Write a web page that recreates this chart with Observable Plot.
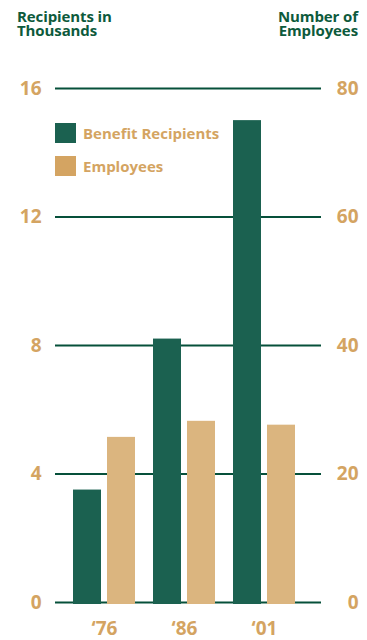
<!DOCTYPE html>
<html>
<head>
<meta charset="utf-8">
<script src="https://cdn.jsdelivr.net/npm/d3@7"></script>
<script src="https://cdn.jsdelivr.net/npm/@observablehq/plot@0.6"></script>
<style>
  html, body { margin: 0; padding: 0; background: #fff; }
  #wrap { position: relative; width: 367px; height: 640px; font-family: "Open Sans", sans-serif; }
  .title { position: absolute; top: 9px; font-weight: 700; font-size: 15px; line-height: 14px; color: #0d5a3c; letter-spacing: -0.1px; }
  .legend { position: absolute; left: 55px; top: 123px; font-weight: 700; font-size: 15px; color: #d4a462; }
  .legend .row { display: flex; align-items: center; height: 20px; margin-bottom: 13px; }
  .legend .sw { width: 21px; height: 20px; margin-right: 7px; }
</style>
</head>
<body>
<div id="wrap">
  <div class="title" style="left:17px;">Recipients in<br>Thousands</div>
  <div class="title" style="right:9px;text-align:right;">Number of<br>Employees</div>
  <div class="legend" id="legend"></div>
</div>
<script>
const years = ["‘76", "‘86", "‘01"];
const recipients = [3.5, 8.2, 15.0];      // thousands
const employees = [25.7, 28.2, 27.6];     // number of employees
const seriesNames = ["Benefit Recipients", "Employees"];
const recipientTicks = [0, 4, 8, 12, 16];
const employeeTicks = [0, 20, 40, 60, 80];

const barColors = ["#1b6150", "#dbb57f"];
const legendColors = ["#1b6150", "#d4a462"];
const labelColor = "#d4a462";
const ratio = employeeTicks[employeeTicks.length - 1] / recipientTicks[recipientTicks.length - 1];

const recData = years.map((y, i) => ({year: y, v: recipients[i]}));
const empData = years.map((y, i) => ({year: y, v: employees[i] / ratio}));

const chart = Plot.plot({
  width: 367,
  height: 640,
  marginLeft: 55,
  marginRight: 46,
  marginTop: 88,
  marginBottom: 38,
  style: {fontFamily: "Open Sans, sans-serif", background: "transparent"},
  x: {domain: years, paddingInner: 0.222, paddingOuter: 0.253, align: 0.41, label: null},
  y: {domain: [0, 16], axis: null},
  marks: [
    Plot.ruleY(recipientTicks, {stroke: "#06503a", strokeWidth: 2.2}),
    Plot.barY(recData, {x: "year", y: "v", fill: barColors[0], insetRight: 34, insetBottom: -2}),
    Plot.barY(empData, {x: "year", y: "v", fill: barColors[1], insetLeft: 34, insetBottom: -2}),
    Plot.axisY(recipientTicks, {anchor: "left", tickSize: 0, tickPadding: 14, fontSize: 19, fontWeight: 700, fill: labelColor, label: null}),
    Plot.axisY(employeeTicks.map(d => d / ratio), {anchor: "right", tickSize: 0, tickPadding: 37, textAnchor: "end", tickFormat: d => String(Math.round(d * ratio)), fontSize: 19, fontWeight: 700, fill: labelColor, label: null}),
    Plot.axisX({anchor: "bottom", tickSize: 0, tickPadding: 19, fontSize: 19, fontWeight: 700, fill: labelColor, label: null})
  ]
});
const wrap = document.getElementById("wrap");
chart.style.position = "absolute";
chart.style.left = "0";
chart.style.top = "0";
wrap.insertBefore(chart, wrap.firstChild);

const legend = document.getElementById("legend");
seriesNames.forEach((s, i) => {
  const row = document.createElement("div");
  row.className = "row";
  const sw = document.createElement("div");
  sw.className = "sw";
  sw.style.background = legendColors[i];
  const t = document.createElement("span");
  t.textContent = s;
  row.appendChild(sw);
  row.appendChild(t);
  legend.appendChild(row);
});
</script>
</body>
</html>
